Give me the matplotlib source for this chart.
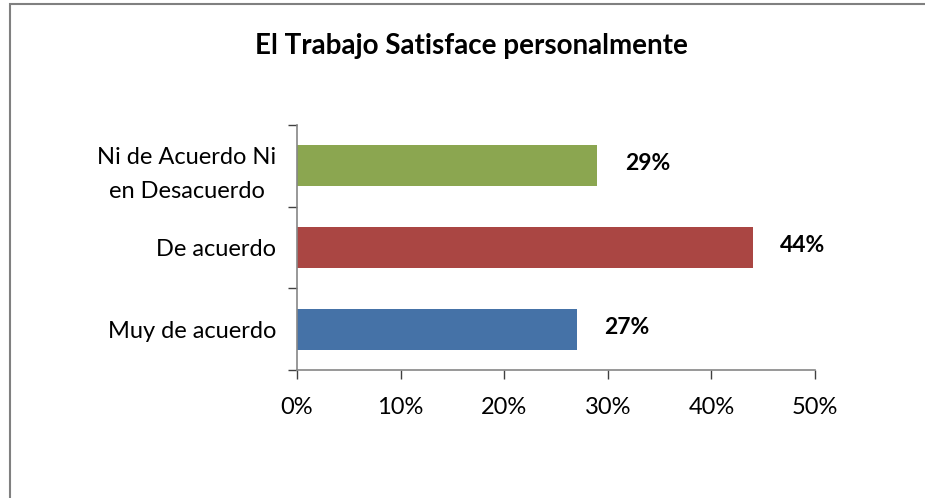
import matplotlib
matplotlib.use('Agg')
import matplotlib.pyplot as plt
from matplotlib.patches import Rectangle

categories = ['Muy de acuerdo', 'De acuerdo', 'Ni de Acuerdo Ni\nen Desacuerdo']
values = [27, 44, 29]
colors = ['#4572A7', '#AA4643', '#8BA650']
xticks = [0, 10, 20, 30, 40, 50]

plt.rcParams['font.family'] = ['Lato', 'DejaVu Sans']

fig = plt.figure(figsize=(9.25, 4.98), dpi=100)
fig.patch.set_facecolor('white')
# chart border (left and top visible in the reference)
fig.add_artist(Rectangle((10 / 925, -0.05), 1.2, 1 - 4 / 498 + 0.05,
                         transform=fig.transFigure, fill=False,
                         edgecolor='#808080', linewidth=1.5))

ax = fig.add_axes([297 / 925, 128 / 498, 518 / 925, 245 / 498])
ypos = range(len(categories))
ax.barh(ypos, values, height=0.5, color=colors)

for y, v in zip(ypos, values):
    ax.annotate(f'{v}%', (v, y), xytext=(50, 2), textcoords='offset pixels',
                ha='center', va='center', fontsize=16.5, fontweight='bold')

ax.set_xlim(0, 50)
ax.set_ylim(-0.5, 2.5)
ax.set_xticks(xticks)
ax.set_xticklabels([f'{t}%' for t in xticks], fontsize=17)
ax.set_yticks([-0.5, 0.5, 1.5, 2.5])
ax.set_yticklabels([])
ax.set_yticks(list(ypos), minor=True)
ax.set_yticklabels(categories, minor=True, fontsize=17,
                   multialignment='center', linespacing=1.75)
ax.tick_params(axis='y', which='minor', length=0, pad=15)
ax.tick_params(axis='both', which='major', length=6.5, width=1, color='#404040')
ax.tick_params(axis='x', pad=13)

for s in ['top', 'right']:
    ax.spines[s].set_visible(False)
for s in ['left', 'bottom']:
    ax.spines[s].set_color('#868686')
    ax.spines[s].set_linewidth(1.2)

fig.text(471 / 925, 1 - 46 / 498, 'El Trabajo Satisface personalmente',
         ha='center', va='center', fontsize=20, fontweight='bold')

fig.savefig('out.png', dpi=100, facecolor='white')
